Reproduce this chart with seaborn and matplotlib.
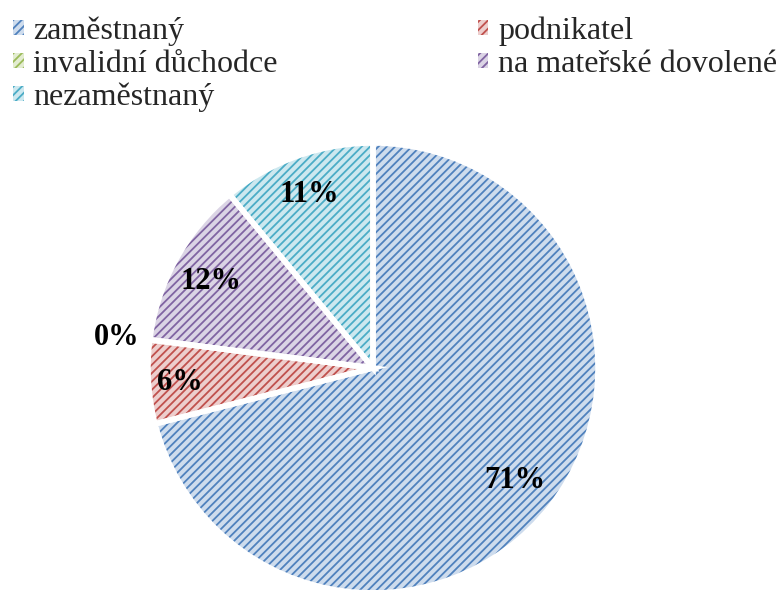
import numpy as np
import matplotlib
matplotlib.use("Agg")
import matplotlib.pyplot as plt
import matplotlib.colors as mcolors
import seaborn as sns

categories = ["zaměstnaný", "podnikatel", "invalidní důchodce",
              "na mateřské dovolené", "nezaměstnaný"]
values = [71, 6, 0, 12, 11]
colors = ["#4F81BD", "#C0504D", "#9BBB59", "#8064A2", "#4BACC6"]
label_dist = [0.80, 0.86, 1.15, 0.82, 0.83]

sns.set_style("white")
plt.rcParams['font.family'] = ['Liberation Serif', 'DejaVu Serif']
plt.rcParams['hatch.linewidth'] = 1.3

def light(c, amt=0.72):
    r, g, b = mcolors.to_rgb(c)
    return (r + (1 - r) * amt, g + (1 - g) * amt, b + (1 - b) * amt)

fig = plt.figure(figsize=(7.8, 5.9), dpi=100)
ax = fig.add_axes([0, 0, 1, 1])

center = (373, 590 - 368)
radius = 225
wedges, texts, autotexts = ax.pie(
    values, colors=[light(c) for c in colors], startangle=90, counterclock=False,
    center=center, radius=radius, autopct='%1.0f%%', pctdistance=0.81,
    wedgeprops=dict(linewidth=0, hatch='////'),
    textprops=dict(fontsize=22, fontweight='bold', color='black'))
for w, c in zip(wedges, colors):
    w.set_edgecolor(c)
    w.set_linewidth(0)
# white gaps between slices
ax.pie(values, startangle=90, counterclock=False, center=center, radius=radius,
       wedgeprops=dict(fill=False, edgecolor='white', linewidth=4))

# percent labels at their own radial distance (0% sits outside)
for t, d, w in zip(autotexts, label_dist, wedges):
    ang = np.deg2rad((w.theta1 + w.theta2) / 2)
    t.set_position((center[0] + d * radius * np.cos(ang),
                    center[1] + d * radius * np.sin(ang) - 2))

ax.set_xlim(0, 780)
ax.set_ylim(0, 590)
ax.set_aspect('equal')
ax.axis('off')

order = [0, 2, 4, 1, 3]
leg = fig.legend([wedges[i] for i in order], [categories[i] for i in order],
                 ncol=2, loc='upper left', bbox_to_anchor=(0.0125, 0.978),
                 frameon=False, fontsize=23, handlelength=0.34, handleheight=0.34,
                 handletextpad=0.3, labelspacing=0.125, columnspacing=6.25,
                 borderpad=0.1, borderaxespad=0)

fig.savefig("out.png", dpi=100)
